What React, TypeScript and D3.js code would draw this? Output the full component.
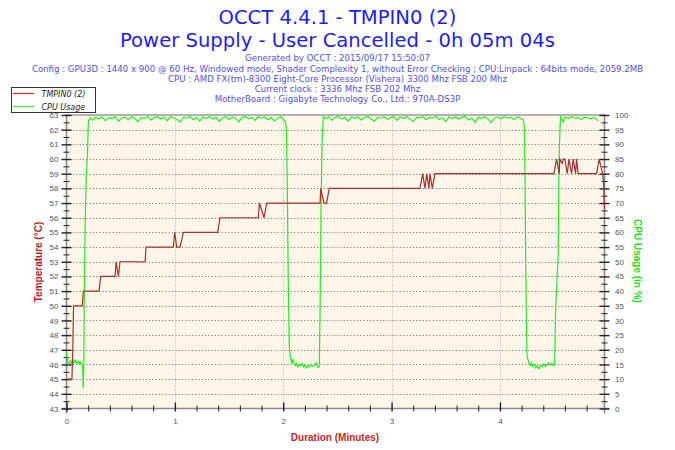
import * as d3 from "d3";
import React, { useEffect, useRef } from "react";

const titleLines = ["OCCT 4.4.1 - TMPIN0 (2)", "Power Supply - User Cancelled - 0h 05m 04s"];
const infoLines = [
  "Generated by OCCT : 2015/09/17 15:50:07",
  "Config : GPU3D : 1440 x 900 @ 60 Hz, Windowed mode, Shader Complexity 1, without Error Checking ; CPU:Linpack : 64bits mode, 2059.2MB",
  "CPU : AMD FX(tm)-8300 Eight-Core Processor (Vishera) 3300 Mhz FSB 200 Mhz",
  "Current clock : 3336 Mhz FSB 202 Mhz",
  "MotherBoard : Gigabyte Technology Co., Ltd.: 970A-DS3P",
];
const seriesNames = ["TMPIN0 (2)", "CPU Usage"];

const tempTicks = [43, 44, 45, 46, 47, 48, 49, 50, 51, 52, 53, 54, 55, 56, 57, 58, 59, 60, 61, 62, 63];
const cpuTicks = [0, 5, 10, 15, 20, 25, 30, 35, 40, 45, 50, 55, 60, 65, 70, 75, 80, 85, 90, 95, 100];
const durationTicks = [0, 1, 2, 3, 4];

// temperature (minutes, °C)
const tempTime = [
  0, 0.05, 0.058, 0.065, 0.145, 0.156, 0.3, 0.316, 0.448, 0.458, 0.479, 0.494, 0.725, 0.734,
  0.986, 0.999, 1.017, 1.048, 1.079, 1.395, 1.417, 1.77, 1.78, 1.823, 1.848, 2.34, 2.346, 2.376,
  2.4, 2.425, 3.262, 3.287, 3.308, 3.324, 3.345, 3.354, 3.376, 3.4, 4.498, 4.523, 4.547, 4.553,
  4.575, 4.585, 4.6, 4.621, 4.637, 4.661, 4.676, 4.698, 4.707, 4.722, 4.892, 4.916, 4.947, 4.955, 4.965,
];
const tempValue = [
  45, 45, 47, 50, 50, 51, 51, 52, 52, 53, 52, 53, 53, 54,
  54, 55, 54, 54, 55, 55, 56, 56, 57, 56, 57, 57, 58, 57,
  57, 58, 58, 59, 58, 59, 58, 59, 58, 59, 59, 60, 59, 60,
  59.7, 60, 60, 59, 60, 59, 60, 59, 60, 59, 59, 60, 59, 58.5, 56.6,
];

// CPU usage (minutes, %)
const cpuTime = [
  0, 0.01, 0.018, 0.03, 0.04, 0.05, 0.058, 0.068, 0.078, 0.088, 0.098, 0.11, 0.12, 0.13, 0.14, 0.148,
  0.155, 0.16, 0.163, 0.172, 0.181, 0.193, 0.202, 0.218,
  0.24, 0.27, 0.3, 0.33, 0.36, 0.39, 0.42, 0.45, 0.48, 0.51, 0.54, 0.57, 0.6, 0.63, 0.66, 0.69,
  0.72, 0.75, 0.78, 0.81, 0.84, 0.87, 0.9, 0.93, 0.96, 0.99, 1.02, 1.05, 1.08, 1.11, 1.14, 1.17,
  1.2, 1.23, 1.26, 1.29, 1.32, 1.35, 1.38, 1.41, 1.44, 1.47, 1.5, 1.53, 1.56, 1.59, 1.62, 1.65,
  1.68, 1.71, 1.74, 1.77, 1.8, 1.83, 1.86, 1.89, 1.92, 1.95, 1.98, 2.0, 2.02,
  2.03, 2.038, 2.046, 2.055, 2.065,
  2.08, 2.09, 2.1, 2.11, 2.12, 2.135, 2.15, 2.16, 2.175, 2.19, 2.2, 2.215, 2.23, 2.245, 2.26,
  2.275, 2.29, 2.305, 2.315, 2.325, 2.333,
  2.34, 2.349, 2.358, 2.37,
  2.39, 2.42, 2.45, 2.48, 2.51, 2.54, 2.57, 2.6, 2.63, 2.66, 2.69, 2.72, 2.75, 2.78, 2.81, 2.84,
  2.87, 2.9, 2.93, 2.96, 2.99, 3.02, 3.05, 3.08, 3.11, 3.14, 3.17, 3.2, 3.23, 3.26, 3.29, 3.32,
  3.35, 3.38, 3.41, 3.44, 3.47, 3.5, 3.53, 3.56, 3.59, 3.62, 3.65, 3.68, 3.71, 3.74, 3.77, 3.8,
  3.83, 3.86, 3.89, 3.92, 3.95, 3.98, 4.01, 4.04, 4.07, 4.1, 4.13, 4.16, 4.19, 4.215,
  4.225, 4.232, 4.238, 4.244, 4.25,
  4.26, 4.27, 4.28, 4.29, 4.3, 4.315, 4.33, 4.345, 4.36, 4.375, 4.39, 4.405, 4.42, 4.435, 4.45,
  4.465, 4.48, 4.495, 4.505,
  4.512, 4.517, 4.528, 4.538, 4.543, 4.547, 4.556, 4.562,
  4.585, 4.6, 4.63, 4.66, 4.69, 4.72, 4.75, 4.78, 4.81, 4.84, 4.87, 4.895, 4.905,
];
const cpuValue = [
  19, 17, 15, 15.5, 16.2, 15.2, 15, 16.5, 15.6, 16.3, 15.4, 16, 15.2, 15.8, 15.5, 14.8,
  7, 17, 35, 62, 78, 86, 98, 99,
  98.2, 99.2, 98.6, 99.4, 98.0, 99.1, 98.7, 99.5, 97.8, 99.0, 99.3, 98.4, 99.4, 98.9, 97.7, 99.2,
  98.8, 99.5, 98.3, 99.1, 99.4, 98.6, 99.3, 98.0, 99.4, 99.0, 98.5, 97.6, 99.2, 98.9, 99.5, 98.4,
  99.1, 97.9, 99.3, 98.8, 99.4, 98.6, 99.2, 97.8, 99.0, 99.4, 98.5, 99.3, 98.9, 97.6, 99.1, 99.4,
  98.7, 99.2, 98.2, 99.4, 98.9, 99.3, 98.4, 99.1, 97.9, 99.0, 99.4, 98.6, 97.5,
  95, 75, 45, 22, 17.5,
  15.5, 16.8, 15.2, 14.6, 15.4, 14.2, 15.0, 14.5, 15.3, 14.1, 14.8, 13.8, 14.6, 14.2, 15.0,
  14.3, 14.7, 15.6, 14.2, 14.0, 14.5,
  33, 67, 90, 99.4,
  98.7, 99.4, 98.2, 99.1, 99.5, 98.6, 99.2, 97.9, 99.3, 98.8, 99.4, 98.3, 99.1, 99.5, 98.7, 97.8,
  99.2, 98.9, 99.4, 98.5, 99.1, 99.4, 98.2, 99.3, 98.8, 99.5, 98.6, 97.7, 99.2, 99.0, 99.4, 98.4,
  99.2, 98.9, 99.5, 98.5, 99.1, 97.8, 99.3, 98.8, 99.4, 98.6, 99.2, 99.5, 98.3, 99.0, 97.5, 99.2,
  98.8, 99.4, 98.6, 97.4, 98.9, 99.3, 98.7, 99.4, 98.9, 99.2, 98.5, 99.3, 98.9, 98.4,
  96, 75, 50, 30, 18,
  16.5, 15.2, 14.8, 15.6, 14.3, 15.0, 13.8, 14.6, 13.5, 14.8, 14.2, 15.2, 14.4, 14.9, 15.6,
  14.7, 15.3, 14.6, 15.2,
  30, 36, 45, 52, 75, 87, 97, 99.4,
  97.7, 99.3, 98.8, 99.4, 98.9, 99.2, 98.5, 99.3, 99.0, 98.7, 99.2, 98.4, 98,
];

const SANS = "'DejaVu Sans', sans-serif";
const ARIAL = "'Liberation Sans', Arial, sans-serif";

const App: React.FC = () => {
  const ref = useRef<SVGSVGElement | null>(null);

  useEffect(() => {
    document.body.style.margin = "0";
    const svg = d3.select(ref.current);
    svg.selectAll("*").remove();

    const left = 66.5, right = 604.5, top = 115, bottom = 408.5;
    const x = d3.scaleLinear().domain([0, 4.965]).range([left, right]);
    const yT = d3.scaleLinear().domain([43, 63]).range([bottom, top]);
    const yC = d3.scaleLinear().domain([0, 100]).range([bottom, top]);

    svg.append("rect").attr("width", 675).attr("height", 450).attr("fill", "#fff");
    svg.append("rect")
      .attr("x", left).attr("y", top)
      .attr("width", right - left).attr("height", bottom - top)
      .attr("fill", "#FDF6E9");

    // titles
    const titleY = [23.8, 46.5];
    svg.selectAll(".title").data(titleLines).join("text")
      .attr("class", "title")
      .attr("x", 337.5).attr("y", (_, i) => titleY[i])
      .attr("text-anchor", "middle")
      .attr("font-family", SANS).attr("font-size", 19.6)
      .attr("fill", "#1E1EF0")
      .text(d => d);

    svg.selectAll(".info").data(infoLines).join("text")
      .attr("class", "info")
      .attr("x", 337.5).attr("y", (_, i) => 61.4 + i * 10.25)
      .attr("text-anchor", "middle")
      .attr("font-family", SANS).attr("font-size", 8.6)
      .attr("fill", "#5050E6")
      .text(d => d);

    // grid
    svg.append("g").selectAll("line")
      .data(tempTicks.filter(t => t > 43 && t < 63)).join("line")
      .attr("x1", left).attr("x2", right)
      .attr("y1", d => Math.round(yT(d)) + 0.5).attr("y2", d => Math.round(yT(d)) + 0.5)
      .attr("stroke", "#666").attr("stroke-dasharray", "1,2.3");

    svg.append("g").selectAll("line")
      .data(durationTicks.filter(t => t > 0)).join("line")
      .attr("x1", d => Math.round(x(d)) + 0.5).attr("x2", d => Math.round(x(d)) + 0.5)
      .attr("y1", top).attr("y2", bottom)
      .attr("stroke", "#bbb").attr("stroke-dasharray", "1,1.5");

    // axis lines
    const axisCol = "#8c8c8c";
    svg.append("line").attr("x1", left).attr("x2", right).attr("y1", top).attr("y2", top)
      .attr("stroke", "#9a9a9a").attr("stroke-width", 1.4);
    svg.append("line").attr("x1", left).attr("x2", left).attr("y1", top - 1).attr("y2", bottom + 5)
      .attr("stroke", axisCol).attr("stroke-width", 1.6);
    svg.append("line").attr("x1", right).attr("x2", right).attr("y1", top - 1).attr("y2", bottom + 5)
      .attr("stroke", axisCol).attr("stroke-width", 1.6);
    svg.append("line").attr("x1", left - 5).attr("x2", right + 5).attr("y1", bottom).attr("y2", bottom)
      .attr("stroke", axisCol).attr("stroke-width", 1.6);

    const styleText = (g: d3.Selection<SVGGElement, unknown, null, undefined>) => {
      g.selectAll(".tick text")
        .attr("font-family", ARIAL).attr("font-size", 8).attr("fill", "#555");
    };

    // left axis
    const gLm = svg.append("g").attr("transform", `translate(${left},0)`)
      .call(d3.axisLeft(yT).tickValues(d3.range(43.5, 63, 1)).tickSize(3).tickFormat(() => ""));
    gLm.select(".domain").remove();
    gLm.selectAll(".tick line").attr("x1", 3).attr("stroke", "#222");

    const gL = svg.append("g").attr("transform", `translate(${left},0)`)
      .call(d3.axisLeft(yT).tickValues(tempTicks).tickSize(5).tickPadding(3).tickFormat(d3.format("d")));
    gL.select(".domain").remove();
    gL.selectAll(".tick line").attr("x1", 5).attr("stroke", "#222").attr("stroke-width", 1.4);
    styleText(gL);

    // right axis
    const gRm = svg.append("g").attr("transform", `translate(${right},0)`)
      .call(d3.axisRight(yC).tickValues(d3.range(2.5, 100, 5)).tickSize(3).tickFormat(() => ""));
    gRm.select(".domain").remove();
    gRm.selectAll(".tick line").attr("x1", -3).attr("stroke", "#222");

    const gR = svg.append("g").attr("transform", `translate(${right},0)`)
      .call(d3.axisRight(yC).tickValues(cpuTicks).tickSize(5).tickPadding(5.5).tickFormat(d3.format("d")));
    gR.select(".domain").remove();
    gR.selectAll(".tick line").attr("x1", -5).attr("stroke", "#222").attr("stroke-width", 1.4);
    styleText(gR);

    // bottom axis
    const minorX = d3.range(1, 25).map(i => i * 0.2).filter(v => Math.abs(v - Math.round(v)) > 0.01 && v < 4.96);
    const gBm = svg.append("g").attr("transform", `translate(0,${bottom})`)
      .call(d3.axisBottom(x).tickValues(minorX).tickSize(3).tickFormat(() => ""));
    gBm.select(".domain").remove();
    gBm.selectAll(".tick line").attr("y1", -3).attr("stroke", "#222");

    const gB = svg.append("g").attr("transform", `translate(0,${bottom})`)
      .call(d3.axisBottom(x).tickValues(durationTicks).tickSize(3).tickPadding(6.5).tickFormat(d3.format("d")));
    gB.select(".domain").remove();
    gB.selectAll(".tick line").attr("y1", -6).attr("stroke", "#222").attr("stroke-width", 1.4);
    styleText(gB);

    // axis titles
    svg.append("text")
      .attr("transform", "translate(41.5,262) rotate(-90)")
      .attr("text-anchor", "middle")
      .attr("font-family", ARIAL).attr("font-size", 10).attr("font-weight", "bold")
      .attr("fill", "#B22222")
      .text("Temperature (°C)");

    svg.append("text")
      .attr("transform", "translate(634,261) rotate(90)")
      .attr("text-anchor", "middle")
      .attr("font-family", ARIAL).attr("font-size", 10).attr("font-weight", "bold")
      .attr("fill", "#22DD22")
      .text("CPU Usage (in %)");

    svg.append("text")
      .attr("x", 335).attr("y", 441)
      .attr("text-anchor", "middle")
      .attr("font-family", ARIAL).attr("font-size", 10).attr("font-weight", "bold")
      .attr("fill", "#C42828")
      .text("Duration (Minutes)");

    // series
    const cpuLine = d3.line<number>().x((_, i) => x(cpuTime[i])).y(d => yC(d));
    svg.append("path").attr("d", cpuLine(cpuValue) ?? "")
      .attr("fill", "none").attr("stroke", "#22EE22").attr("stroke-width", 1.2);

    const tempLine = d3.line<number>().x((_, i) => x(tempTime[i])).y(d => yT(d));
    svg.append("path").attr("d", tempLine(tempValue) ?? "")
      .attr("fill", "none").attr("stroke", "#A83030").attr("stroke-width", 1.2);

    // legend
    const lg = svg.append("g");
    lg.append("rect").attr("x", 11.5).attr("y", 87.5).attr("width", 84).attr("height", 25)
      .attr("fill", "#fff").attr("stroke", "#333");
    const legendColors = ["#C03A3A", "#44EE44"];
    seriesNames.forEach((name, i) => {
      const yy = 93.5 + i * 13;
      lg.append("line").attr("x1", 13).attr("x2", 34).attr("y1", yy).attr("y2", yy)
        .attr("stroke", legendColors[i]).attr("stroke-width", 1.3);
      lg.append("text").attr("x", 41.5).attr("y", yy + 3)
        .attr("font-family", SANS).attr("font-size", 8).attr("font-style", "italic")
        .attr("fill", "#222").text(name);
    });

    return () => {
      svg.selectAll("*").remove();
    };
  }, []);

  return <svg ref={ref} width={675} height={450} style={{ display: "block" }} />;
};

export default App;
